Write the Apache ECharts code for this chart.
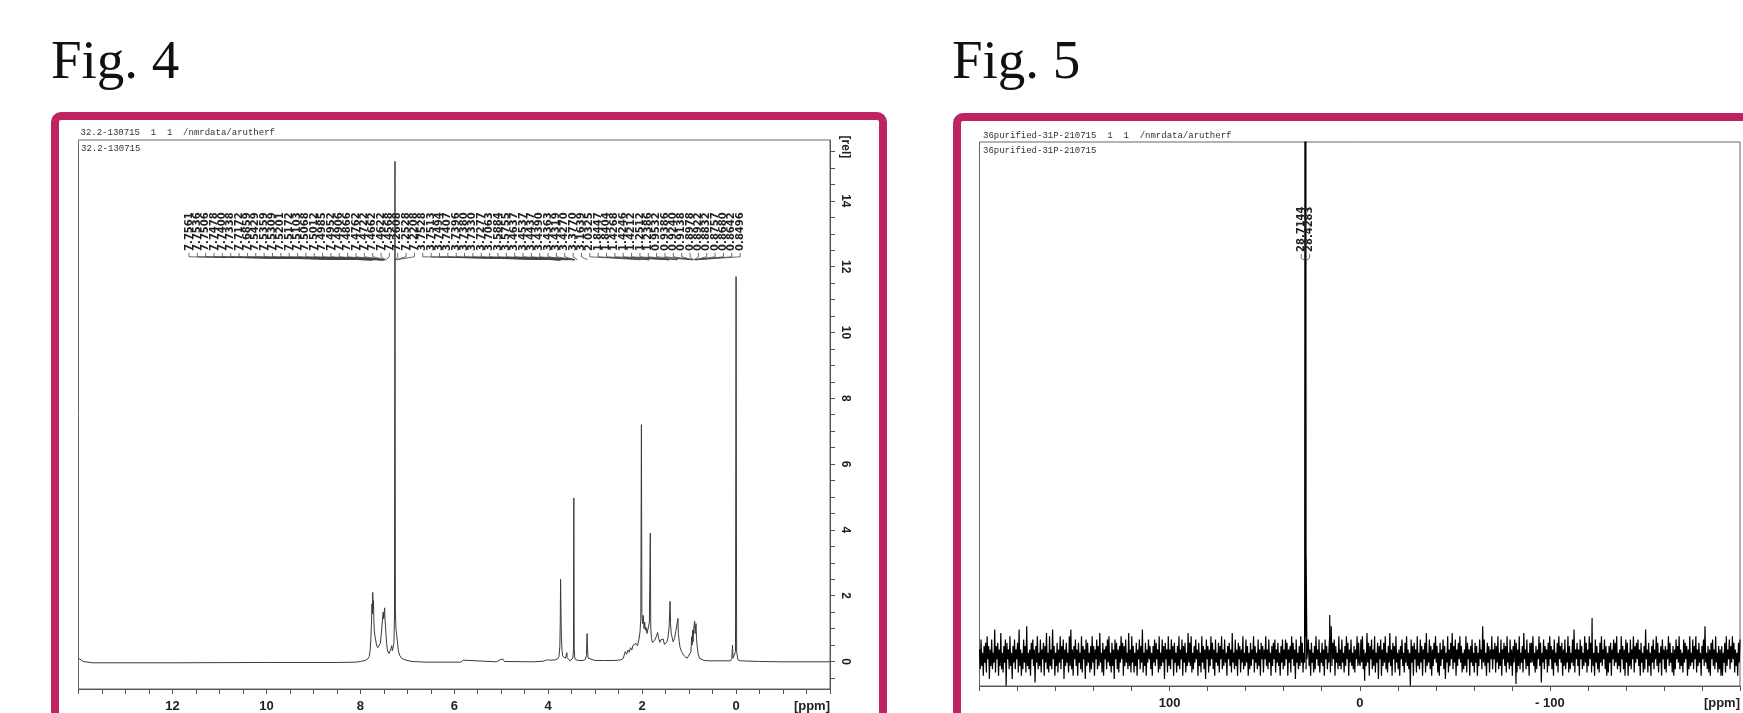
<!DOCTYPE html>
<html><head><meta charset="utf-8">
<script src="https://cdn.jsdelivr.net/npm/echarts@6/dist/echarts.min.js"></script>
<style>html,body{margin:0;padding:0;background:#fff;overflow:hidden}#c{width:1743px;height:713px}</style>
</head><body><div id="c"></div>
<script>
// ---------- texts ----------
const FIG4_TITLE = 'Fig. 4';
const FIG5_TITLE = 'Fig. 5';
const FIG4_HEADER = '32.2-130715  1  1  /nmrdata/arutherf';
const FIG4_NAME = '32.2-130715';
const FIG5_HEADER = '36purified-31P-210715  1  1  /nmrdata/arutherf';
const FIG5_NAME = '36purified-31P-210715';
const X_UNIT_LABEL = '[ppm]';
const Y_UNIT_LABEL = '[rel]';

// ---------- Fig. 4 (1H) ----------
const FIG4_Y_LABELS = [0, 2, 4, 6, 8, 10, 12, 14];
const FIG4_PEAK_LABELS = [
  '7.7561','7.7536','7.7506','7.7478','7.7400','7.7338','7.7172','7.6859',
  '7.5429','7.5359','7.5309','7.5201','7.5172','7.5103','7.5068','7.5012',
  '7.4985','7.4952','7.4906','7.4866','7.4762','7.4722','7.4662','7.4622','7.4568',
  '7.2608','7.2528','7.2208',
  '3.7528','3.7513','3.7494','3.7407','3.7396','3.7380','3.7330','3.7277','3.7063',
  '3.5884','3.5755','3.4637','3.4537','3.4437','3.4390','3.4363','3.4319','3.4270',
  '3.3770','3.1639',
  '2.0325','1.8447','1.8404','1.4268','1.4246','1.4212','1.2512','1.2386',
  '0.9532','0.9386','0.9240','0.9138','0.8978','0.8922','0.8832','0.8757',
  '0.8680','0.8642','0.8496'
];
const FIG4_SPECTRUM = [
  [14.0,0.10],[13.9,0.0],[13.7,-0.04],[12.0,-0.04],[10.0,-0.03],[8.5,-0.03],[8.1,-0.02],[8.0,0.0],
  [7.9,0.03],[7.85,0.07],[7.81,0.15],[7.79,0.35],[7.775,0.7],[7.762,1.2],[7.752,1.75],[7.742,1.45],
  [7.735,2.1],[7.728,1.6],[7.72,1.85],[7.71,1.2],[7.70,0.9],[7.685,0.75],[7.672,0.7],[7.655,0.5],
  [7.63,0.42],[7.60,0.45],[7.575,0.55],[7.555,0.8],[7.54,1.05],[7.525,1.35],[7.512,1.5],[7.502,1.3],
  [7.492,1.5],[7.482,1.63],[7.474,1.25],[7.466,1.13],[7.455,0.85],[7.44,0.55],[7.42,0.32],[7.39,0.24],
  [7.36,0.3],[7.345,0.4],[7.332,0.48],[7.318,0.33],[7.30,0.35],[7.285,0.55],[7.272,1.4],[7.262,15.2],
  [7.253,1.5],[7.242,1.0],[7.232,0.9],[7.222,0.95],[7.21,0.6],[7.19,0.32],[7.16,0.18],[7.12,0.1],
  [7.05,0.05],[6.9,0.0],[6.6,-0.02],[6.0,-0.02],[5.86,-0.02],[5.81,0.04],[5.77,-0.01],[5.1,-0.01],
  [5.03,0.05],[5.0,0.09],[4.97,0.08],[4.93,0.0],[4.3,-0.01],[4.1,0.01],[4.02,0.05],[3.95,0.04],
  [3.85,0.05],[3.80,0.08],[3.77,0.15],[3.752,0.45],[3.743,1.2],[3.736,2.5],[3.728,1.6],[3.72,0.8],
  [3.705,0.32],[3.69,0.16],[3.66,0.1],[3.63,0.1],[3.61,0.15],[3.603,0.27],[3.596,0.12],[3.575,0.06],
  [3.54,0.02],[3.50,0.04],[3.475,0.1],[3.462,0.35],[3.454,4.97],[3.446,0.4],[3.435,0.12],[3.41,0.05],
  [3.35,0.03],[3.26,0.03],[3.21,0.06],[3.185,0.18],[3.172,0.85],[3.162,0.35],[3.15,0.1],[3.12,0.04],
  [3.0,0.03],[2.8,0.03],[2.6,0.03],[2.45,0.05],[2.40,0.1],[2.36,0.3],[2.33,0.22],[2.30,0.35],
  [2.27,0.28],[2.25,0.42],[2.22,0.35],[2.19,0.5],[2.16,0.45],[2.13,0.55],[2.10,0.48],[2.07,0.65],
  [2.045,0.9],[2.028,1.3],[2.015,7.2],[2.005,1.45],[1.99,1.15],[1.975,1.4],[1.96,1.0],[1.945,1.2],
  [1.93,0.95],[1.915,1.03],[1.895,0.85],[1.87,0.9],[1.845,1.2],[1.826,3.9],[1.816,1.0],[1.80,0.7],
  [1.78,0.58],[1.755,0.53],[1.73,0.65],[1.70,0.75],[1.67,0.88],[1.65,0.72],[1.625,0.58],[1.60,0.66],
  [1.575,0.6],[1.55,0.68],[1.525,0.52],[1.50,0.48],[1.475,0.58],[1.45,0.72],[1.425,1.05],[1.405,1.83],
  [1.395,1.15],[1.38,0.85],[1.36,0.73],[1.34,0.6],[1.31,0.7],[1.285,0.9],[1.255,0.95],[1.237,1.31],
  [1.228,0.85],[1.21,0.6],[1.19,0.42],[1.16,0.3],[1.13,0.22],[1.09,0.15],[1.04,0.1],[1.0,0.12],
  [0.96,0.3],[0.945,0.75],[0.935,0.5],[0.925,0.95],[0.915,0.6],[0.902,1.0],[0.89,1.0],[0.882,1.23],
  [0.872,0.85],[0.862,1.05],[0.852,1.15],[0.842,0.7],[0.83,0.5],[0.81,0.25],[0.78,0.1],[0.74,0.05],
  [0.68,0.03],[0.55,0.02],[0.3,0.02],[0.12,0.02],[0.09,0.1],[0.075,0.5],[0.065,0.1],[0.03,0.05],
  [0.012,0.3],[0.0,11.7],[-0.012,0.3],[-0.04,0.05],[-0.1,0.02],[-0.5,0.0],[-1.0,-0.01],[-2.0,-0.01]
];

// ---------- Fig. 5 (31P) ----------
const FIG5_PEAK_LABELS = ['28.7144', '28.4283'];
const FIG5_PEAKS = [
  [29.3,1],[28.95,30],[28.72,300],[28.42,300],[28.2,30],[27.8,-1],
  [16.2,2],[15.8,12.4],[15.4,3],[15.0,9],[14.6,-2],
  [-2.6,-7.5],[-82.2,-8.5],
  [-121.8,1],[-122.2,11.5],[-122.6,-1]
];
const FIG5_NOISE = [
  2,-4,5,-3,1,-6,3,-2,4,-5,6,-1,3,-7,2,-3,5,-4,1,-2,8,-5,3,-1,4,
  -6,2,-3,7,-4,1,-5,3,-2,5,-9,4,-1,2,-4,6,-3,1,-7,3,-2,5,-4,2,-1,
  4,-5,8,-3,2,-6,1,-4,5,-2,3,-5,9,-3,1,-4,2,-6,4,-1,5,-3,2,-8,3,
  -2,6,-4,1,-3,5,-5,2,-1,4,-6,3,-2,7,-4,1,-5,6,-3,2,-4,8,-1,3,-6,
  1,-3,4,-5,2,-2,6,-4,3,-1,5,-7,2,-3,4,-2,1,-5,6,-3,8,-4,2,-6,3,
  -1,5,-3,2,-6,4,-2,1,-4,6,-5,3,-1,2,-7,5,-3,4,-2,1,-5,3,-4,6,-2,
  3,-6,2,-1,5,-4,3,-3,7,-2,1,-5,4,-6,2,-1,3,-4,5,-2,6,-3,1,-5,4,
  -3,2,-7,5,-1,4,-4,2,-5,3,-2,6,-1,4,-6,3,-3,5,-2,1,-4,7,-3,2,-5,
  6,-2,3,-5,1,-3,4,-6,2,-1,5,-4,3,-2,8,-5,1,-3,4,-6,2,-2,5,-1,3,
  -4,1,-6,3,-2,5,-3,4,-1,2,-5,6,-4,1,-3,5,-2,3,-7,4,-1,2,-5,6,-3,
  2,-4,5,-1,3,-6,4,-2,1,-5,3,-3,6,-4,2,-1,5,-6,3,-2,4,-5,1,-3,7,
  -2,4,-3,6,-5,1,-4,3,-2,5,-1,2,-6,4,-3,1,-5,6,-2,3,-4,2,-7,5,-1,
  3,-5,2,-3,6,-1,4,-4,2,-6,5,-2,1,-3,4,-5,3,-1,6,-4,2,-3,5,-2,1,
  -6,3,-1,4,-3,2,-5,7,-2,1,-4,5,-3,2,-6,4,-1,3,-5,2,-2,6,-4,1,-3,
  5,-2,3,-6,1,-4,4,-3,2,-1,6,-5,3,-2,1,-4,5,-3,2,-6,4,-1,3,-5,2,
  -1,6,-3,2,-4,5,-2,1,-6,3,-3,4,-1,5,-5,2,-2,4,-3,1,-6,3,-2,5,-4,
  2,-3,5,-1,4,-6,2,-2,3,-5,6,-1,4,-3,2,-7,5,-2,1,-4,3,-3,6,-2,4,
  -5,1,-2,6,-4,3,-1,5,-3,2,-6,4,-2,1,-5,3,-4,6,-1,2,-3,5,-5,1,-2,
  4,-3,2,-6,5,-1,3,-4,1,-2,6,-5,2,-3,4,-1,5,-6,3,-2,1,-4,6,-3,2,
  -4,5,-2,1,-5,3,-3,6,-1,4,-6,2,-2,5,-3,1,-4,3,-5,2,-1,6,-3,4,-2,
  -3,5,-2,6,-4,2,-5,1,-3,7,-2,4,-6,3,-1,5,-4,2,-3,6,-5,1,-2,4,-7,
  3,-1,5,-6,2,-3,4,-2,6,-4,1,-5,3,-2,7,-3,2,-6,4,-1,3,-5,6,-2,1,
  -4,2,-6,3,-1,5,-3,1,-5,4,-2,6,-3,2,-4,1,-9,5,-2,3,-6,4,-1,2,-5,
  6,-3,1,-4,5,-2,3,-6,2,-1,4,-5,7,-3,1,-2,5,-4,3,-6,2,-3,4,-1,6,
  -2,3,-5,1,-6,4,-3,2,-1,5,-4,3,-7,1,-2,6,-5,2,-3,4,-1,7,-4,3,-2,
  5,-6,2,-3,4,-1,6,-2,3,-5,1,-4,2,-3,6,-5,4,-1,2,-6,3,-2,5,-3,1,
  -5,4,-2,3,-6,1,-3,5,-1,2,-4,9,-2,5,-3,1,-6,4,-2,3,-5,2,-1,6,-4,
  2,-1,4,-5,3,-2,6,-4,1,-3,5,-6,2,-1,4,-3,3,-5,6,-2,1,-4,5,-3,2,
  -6,3,-2,5,-1,4,-5,2,-3,6,-4,1,-2,3,-5,7,-1,2,-4,5,-3,1,-6,4,-2,
  4,-2,6,-3,1,-5,3,-4,2,-1,6,-3,4,-8,1,-2,5,-4,3,-1,2,-5,4,-3,6,
  -1,3,-4,2,-6,5,-2,1,-3,4,-5,6,-1,3,-2,4,-6,2,-3,5,-4,1,-2,6,-5,
  3,-4,1,-2,5,-3,8,-5,2,-1,4,-3,2,-6,5,-1,3,-4,1,-3,6,-2,4,-5,2,
  -3,6,-1,4,-5,2,-3,1,-6,5,-2,3,-4,1,-5,4,-2,6,-3,2,-1,5,-4,3,-6,
  1,-5,3,-2,4,-6,2,-1,5,-3,4,-2,6,-4,1,-3,2,-5,6,-1,3,-4,2,-6,5,
  -2,4,-6,1,-3,5,-4,2,-1,6,-5,3,-2,4,-1,5,-3,2,-6,4,-2,1,-5,3,-4,
  8,-1,2,-5,4,-3,1,-6,3,-2,5,-4,2,-1,6,-3,4,-5,1,-2,3,-6,5,-1,2,
  -4,3,-5,2,-1,6,-3,4,-2,1,-5,3,-6,2,-4,5,-1,3,-2,6,-4,2,-3,1,-5,
  5,-2,4,-1,3,-6,2,-4,6,-3,1,-2,5,-4,3,-1,6,-5,2,-3,4,-2,1,-6,3,
  -1,5,-3,9,-2,1,-4,3,-5,2,-6,4,-1,5,-3,2,-4,6,-2,1,-5,3,-4,2,-6,
  3,-6,1,-2,4,-5,6,-3,2,-1,5,-4,3,-2,6,-1,4,-5,2,-3,1,-6,4,-2,5
];
const FIG5_X_START = 200, FIG5_X_END = -200;

// ---------- build ----------
const MAGENTA = '#BE2461';
const INK = '#333';

const noisePts = FIG5_NOISE.map((v, i) => [FIG5_X_START - i * (FIG5_X_START - FIG5_X_END) / (FIG5_NOISE.length - 1), v]);
const fig5Spectrum = noisePts.concat(FIG5_PEAKS).sort((a, b) => b[0] - a[0]);

const fig4Ticks = [];
for (let v = -0.5; v <= 15.5001; v += 0.5) fig4Ticks.push(+v.toFixed(1));
const REL_AT = 15.64;

function labelSeries(labels, gi, startPpm, stepPpm, yBase, yTick, yLead) {
  return {
    type: 'custom', xAxisIndex: gi, yAxisIndex: gi, silent: true, clip: false, z: 5,
    encode: { x: [0, 1], y: 3 },
    data: labels.map((s, i) => [startPpm - i * stepPpm, parseFloat(s), i, yBase]),
    renderItem: (params, api) => {
      const idx = api.value(2);
      const a = api.coord([api.value(0), yBase]);
      const t = api.coord([api.value(0), yTick]);
      const e = api.coord([api.value(1), yLead]);
      return { type: 'group', children: [
        { type: 'text', x: a[0], y: a[1], rotation: Math.PI / 2,
          style: { text: labels[idx], font: 'bold 10px "DejaVu Sans"', fill: '#222', align: 'left', verticalAlign: 'middle' } },
        { type: 'polyline', shape: { points: [[a[0], a[1] + 2], t, e] },
          style: { stroke: '#444', lineWidth: 0.8, fill: null } }
      ]};
    }
  };
}

const axisLabelFont = { fontFamily: 'Liberation Sans', fontWeight: 'bold', fontSize: 13, color: '#222' };

const option = {
  backgroundColor: '#fff',
  animation: false,
  graphic: [
    { type: 'rect', shape: { x: 55, y: 116, width: 828, height: 660, r: 6 }, style: { fill: 'none', stroke: MAGENTA, lineWidth: 8 }, silent: true },
    { type: 'rect', shape: { x: 957, y: 117, width: 900, height: 660, r: 6 }, style: { fill: 'none', stroke: MAGENTA, lineWidth: 8 }, silent: true },
    { type: 'text', x: 51, y: 91, style: { text: FIG4_TITLE, font: '55px "Liberation Serif"', fill: '#111', verticalAlign: 'bottom', textVerticalAlign: 'bottom' } },
    { type: 'text', x: 952, y: 91, style: { text: FIG5_TITLE, font: '55px "Liberation Serif"', fill: '#111', verticalAlign: 'bottom', textVerticalAlign: 'bottom' } },
    { type: 'text', x: 80.5, y: 132.5, style: { text: FIG4_HEADER, font: '9px "Liberation Mono"', fill: INK, verticalAlign: 'middle', textVerticalAlign: 'middle' } },
    { type: 'text', x: 81, y: 149, style: { text: FIG4_NAME, font: '9px "Liberation Mono"', fill: INK, verticalAlign: 'middle', textVerticalAlign: 'middle' } },
    { type: 'text', x: 983, y: 135.5, style: { text: FIG5_HEADER, font: '9px "Liberation Mono"', fill: INK, verticalAlign: 'middle', textVerticalAlign: 'middle' } },
    { type: 'text', x: 983, y: 151, style: { text: FIG5_NAME, font: '9px "Liberation Mono"', fill: INK, verticalAlign: 'middle', textVerticalAlign: 'middle' } }
  ],
  grid: [
    { left: 78.5, top: 140, width: 751.5, height: 559, show: true, borderColor: '#666', borderWidth: 1, containLabel: false },
    { left: 979.5, top: 142, width: 768, height: 544, show: true, borderColor: '#666', borderWidth: 1, containLabel: false }
  ],
  xAxis: [
    { gridIndex: 0, type: 'value', min: -2, max: 14, interval: 2, inverse: true,
      axisLine: { show: true, onZero: false, lineStyle: { color: '#555', width: 1 } },
      axisTick: { show: true, length: 5, lineStyle: { color: '#555' } },
      minorTick: { show: true, splitNumber: 4, length: 5, lineStyle: { color: '#555' } },
      splitLine: { show: false },
      axisLabel: Object.assign({ margin: 11, alignMinLabel: 'right',
        formatter: v => v === -2 ? X_UNIT_LABEL : (v === 14 ? '' : String(v)) }, axisLabelFont) },
    { gridIndex: 1, type: 'value', min: FIG5_X_END, max: FIG5_X_START, interval: 100, inverse: true,
      axisLine: { show: true, onZero: false, lineStyle: { color: '#555', width: 1 } },
      axisTick: { show: true, length: 5, lineStyle: { color: '#555' } },
      minorTick: { show: true, splitNumber: 5, length: 5, lineStyle: { color: '#555' } },
      splitLine: { show: false },
      axisLabel: Object.assign({ margin: 11, alignMinLabel: 'right',
        formatter: v => v === FIG5_X_END ? X_UNIT_LABEL : (v === FIG5_X_START ? '' : (v < 0 ? '- ' + (-v) : String(v))) }, axisLabelFont) }
  ],
  yAxis: [
    { gridIndex: 0, type: 'value', position: 'right', min: -0.836, max: 15.85,
      axisLine: { show: true, onZero: false, lineStyle: { color: '#555', width: 1 } },
      axisTick: { show: true, length: 5, customValues: fig4Ticks, lineStyle: { color: '#555' } },
      splitLine: { show: false },
      axisLabel: Object.assign({ margin: 9, rotate: -90, customValues: FIG4_Y_LABELS.concat([REL_AT]),
        formatter: v => Math.abs(v - REL_AT) < 1e-6 ? Y_UNIT_LABEL : String(v) }, axisLabelFont, { fontSize: 12 }) },
    { gridIndex: 1, type: 'value', min: -9.09, max: 155.76, show: false, splitLine: { show: false } }
  ],
  series: [
    { type: 'line', xAxisIndex: 0, yAxisIndex: 0, data: FIG4_SPECTRUM, showSymbol: false, symbol: 'none',
      lineStyle: { color: '#3a3a3a', width: 1 }, silent: true, clip: true },
    labelSeries(FIG4_PEAK_LABELS, 0, 11.648, 0.1778, 12.48, 12.30, 12.21),
    { type: 'line', xAxisIndex: 1, yAxisIndex: 1, data: fig5Spectrum, showSymbol: false, symbol: 'none',
      lineStyle: { color: '#000', width: 1.2 }, silent: true, clip: true },
    labelSeries(FIG5_PEAK_LABELS, 1, 30.78, 4.43, 122.42, 120.6, 119.7)
  ]
};

const chart = echarts.init(document.getElementById('c'), null, { renderer: 'canvas' });
chart.setOption(option);
</script>
</body></html>
